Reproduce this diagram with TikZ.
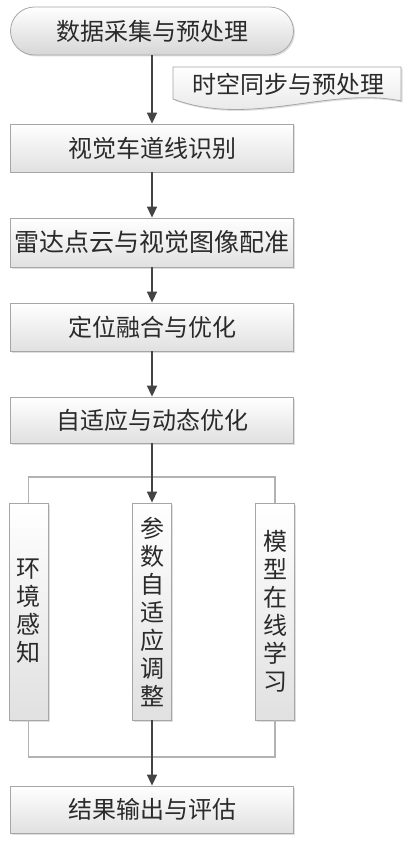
\documentclass[tikz,border=0pt]{standalone}
\usepackage{fontspec}
\newfontfamily\cjk{Noto Sans CJK SC}
\usetikzlibrary{arrows.meta,shadows}
\definecolor{edge}{HTML}{A6A6A6}
\definecolor{arr}{HTML}{444444}
\definecolor{txt}{HTML}{2A2A2A}
\tikzset{
 shadowed/.style={drop shadow={shadow xshift=1.5pt, shadow yshift=-1.5pt, opacity=0.25}},
 boxbase/.style={draw=edge, line width=0.8pt, top color=white, bottom color=black!12, shadowed,
   font=\cjk\fontsize{24}{28}\selectfont, text=txt, inner sep=0pt},
 hbox/.style={boxbase, minimum width=283pt, minimum height=48pt},
 vbox/.style={boxbase, minimum width=39pt, minimum height=217pt, align=center},
 termbox/.style={hbox, rounded corners=24pt, bottom color=black!16},
 docshape/.style={draw=edge, line width=0.8pt, top color=white, bottom color=black!12, shadowed},
 doctext/.style={font=\cjk\fontsize{24}{28}\selectfont, text=txt, inner sep=0pt},
 flow/.style={draw=arr, line width=1.6pt, -{Triangle[length=11pt,width=10pt]}},
 bracket/.style={draw=black!30, line width=1.5pt},
}
\begin{document}
\begin{tikzpicture}[x=1pt,y=-1pt]
\useasboundingbox[fill=white] (0,0) rectangle (410,842);
% nodes
\node[termbox] (term) at (152,31) {数据采集与预处理};
\path[docshape] (173,67) -- (401,67) -- (401,101)
  .. controls (330,86) and (250,128) .. (173,99) -- cycle;
\node[doctext] (doc) at (288,84) {时空同步与预处理};
\node[hbox] (b2) at (152,148) {视觉车道线识别};
\node[hbox, minimum height=49pt, font=\cjk\fontsize{25}{28}\selectfont] (b3) at (152,242.5) {雷达点云与视觉图像配准};
\node[hbox] (b4) at (152,327) {定位融合与优化};
\node[hbox, minimum height=46pt] (b5) at (152,420) {自适应与动态优化};
\node[vbox] (env) at (28.5,611.5) {环\\境\\感\\知};
\node[vbox] (param) at (152,611.5) {参\\数\\自\\适\\应\\调\\整};
\node[vbox] (model) at (275,611.5) {模\\型\\在\\线\\学\\习};
\node[hbox, minimum height=47pt] (res) at (152,809.5) {结果输出与评估};
% coordinates for bracket lines
\coordinate (tl) at (28.5,477);
\coordinate (tr) at (275,477);
\coordinate (bl) at (28.5,757);
\coordinate (br) at (275,757);
% brackets
\draw[bracket] (env.north) -- (tl) -- (tr) -- (model.north);
\draw[bracket] (env.south) -- (bl) -- (br) -- (model.south);
% flow arrows
\draw[flow] (term.south) -- (b2.north);
\draw[flow] (b2.south) -- (b3.north);
\draw[flow] (b3.south) -- (b4.north);
\draw[flow] (b4.south) -- (b5.north);
\draw[flow] (b5.south) -- (param.north);
\draw[flow] (param.south) -- (res.north);
\end{tikzpicture}
\end{document}
